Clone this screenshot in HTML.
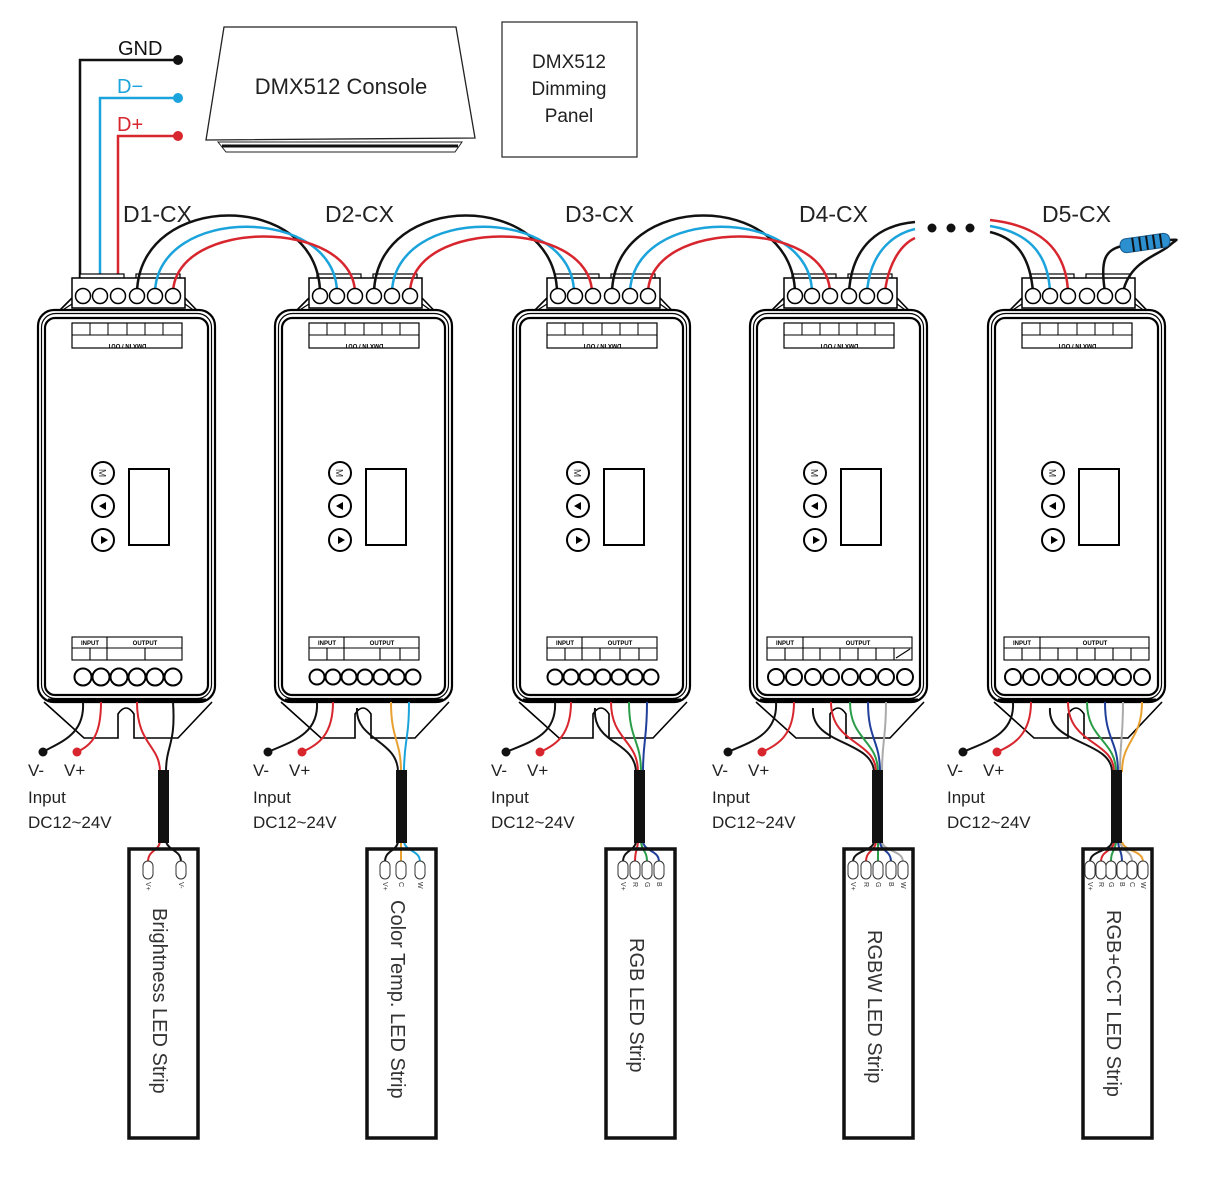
<!DOCTYPE html>
<html><head><meta charset="utf-8"><style>
html,body{margin:0;padding:0;background:#fff;}
svg{display:block;font-family:"Liberation Sans",sans-serif;}
</style></head><body>
<svg width="1218" height="1188" viewBox="0 0 1218 1188" xmlns="http://www.w3.org/2000/svg">
<defs>
<g id="body" fill="none" stroke="#000">
  <path d="M40,330 L72,298 M185,298 L214,328" stroke-width="1.6"/>
  <path d="M44,322 L72,304 M185,304 L210,322" stroke-width="1.2"/>
  <rect x="38" y="310" width="177" height="392" rx="16" stroke-width="2.2" fill="#fff"/>
  <rect x="41.5" y="313.5" width="170" height="385" rx="14" stroke-width="1.2"/>
  <rect x="45" y="318" width="163" height="377" rx="10" stroke-width="2.2"/>
  <rect x="80" y="274" width="44" height="5" stroke-width="1.2" fill="#fff"/>
  <rect x="136" y="274" width="44" height="5" stroke-width="1.2" fill="#fff"/>
  <rect x="72" y="278" width="113" height="30" stroke-width="1.5" fill="#fff"/>
  <rect x="72" y="323" width="110" height="25" stroke-width="1.2"/>
  <path d="M72,335 H182 M90,323 V335 M108,323 V335 M127,323 V335 M145,323 V335 M163,323 V335" stroke-width="1"/>
  <circle cx="103" cy="473" r="11" stroke-width="2"/>
  <circle cx="103" cy="506" r="11" stroke-width="2"/>
  <circle cx="103" cy="540" r="11" stroke-width="2"/>
  <path d="M99,506 L106,502 L106,510 Z M101,536 L108,540 L101,544 Z" fill="#000" stroke="none"/>
  <rect x="129" y="469" width="40" height="76" stroke-width="2"/>
  <path d="M44,702 L84,738 L118,738 L118,714 Q126,702 134,714 L134,738 L178,738 L212,702" stroke-width="1.6"/>
  <line x1="48" y1="700" x2="206" y2="700" stroke-width="3"/>
</g>
<g id="topterm" fill="#fff" stroke="#000" stroke-width="1.5">
  <circle cx="83" cy="296" r="7.5"/><circle cx="100" cy="296" r="7.5"/><circle cx="118" cy="296" r="7.5"/>
  <circle cx="137" cy="296" r="7.5"/><circle cx="155" cy="296" r="7.5"/><circle cx="173" cy="296" r="7.5"/>
</g>
</defs>

<polygon points="224,27 456,27 475,138 206,140" fill="#fff" stroke="#222" stroke-width="1.3"/>
<polygon points="218,142 462,142 455,152 226,152" fill="#fff" stroke="#222" stroke-width="1"/>
<line x1="222" y1="146" x2="458" y2="146" stroke="#111" stroke-width="3"/>
<text x="341" y="94" font-size="22" text-anchor="middle" fill="#222">DMX512 Console</text>
<rect x="502" y="22" width="135" height="135" fill="none" stroke="#333" stroke-width="1.3"/>
<text x="569" y="68" font-size="19" text-anchor="middle" fill="#222">DMX512</text>
<text x="569" y="95" font-size="19" text-anchor="middle" fill="#222">Dimming</text>
<text x="569" y="122" font-size="19" text-anchor="middle" fill="#222">Panel</text>

<text x="118" y="55" font-size="20" fill="#111">GND</text>
<path d="M80,290 V60 H178" fill="none" stroke="#111" stroke-width="2.5"/>
<circle cx="178" cy="60" r="5" fill="#111"/>
<text x="117" y="93" font-size="20" fill="#1ba3db">D−</text>
<path d="M100,290 V98 H178" fill="none" stroke="#1ba3db" stroke-width="2.5"/>
<circle cx="178" cy="98" r="5" fill="#1ba3db"/>
<text x="117" y="131" font-size="20" fill="#d7262e">D+</text>
<path d="M118,290 V136 H178" fill="none" stroke="#d7262e" stroke-width="2.5"/>
<circle cx="178" cy="136" r="5" fill="#d7262e"/>

<g font-size="23" fill="#222">
<text x="123" y="222">D1-CX</text><text x="325" y="222">D2-CX</text><text x="565" y="222">D3-CX</text><text x="799" y="222">D4-CX</text><text x="1042" y="222">D5-CX</text>
</g>

<use href="#body"/><use href="#body" x="237"/><use href="#body" x="475"/><use href="#body" x="712"/><use href="#body" x="950"/>
<g font-size="10" fill="#333" text-anchor="middle">
<text transform="translate(99,473) rotate(90)">M</text>
<text transform="translate(336,473) rotate(90)">M</text>
<text transform="translate(574,473) rotate(90)">M</text>
<text transform="translate(811,473) rotate(90)">M</text>
<text transform="translate(1049,473) rotate(90)">M</text>
</g>

<g fill="none" stroke-width="2.5">
<path d="M137,292 C140,190 318,190 320,292" stroke="#111"/>
<path d="M155,292 C158,205 335,205 337,292" stroke="#1ba3db"/>
<path d="M173,292 C176,218 352,218 355,292" stroke="#d7262e"/>
<path d="M374,292 C377,190 555,190 557,292" stroke="#111"/>
<path d="M392,292 C395,205 572,205 574,292" stroke="#1ba3db"/>
<path d="M410,292 C413,218 589,218 592,292" stroke="#d7262e"/>
<path d="M612,292 C615,190 792,190 795,292" stroke="#111"/>
<path d="M630,292 C633,205 810,205 812,292" stroke="#1ba3db"/>
<path d="M648,292 C651,218 827,218 830,292" stroke="#d7262e"/>
<path d="M849,292 C852,245 880,225 915,222" stroke="#111"/>
<path d="M867,292 C870,255 890,235 915,229" stroke="#1ba3db"/>
<path d="M885,292 C888,265 900,245 915,238" stroke="#d7262e"/>
<path d="M1033,292 C1030,255 1015,238 990,232" stroke="#111"/>
<path d="M1050,292 C1048,250 1025,232 990,226" stroke="#1ba3db"/>
<path d="M1068,292 C1066,245 1035,225 990,220" stroke="#d7262e"/>
<path d="M1105,292 C1100,260 1105,250 1122,246" stroke="#111"/>
<path d="M1123,292 C1130,260 1160,255 1170,245 C1178,238 1180,240 1168,240" stroke="#111"/>
</g>
<circle cx="932" cy="228" r="4.5" fill="#111"/><circle cx="951" cy="228" r="4.5" fill="#111"/><circle cx="970" cy="228" r="4.5" fill="#111"/>
<g transform="rotate(-8 1145 243)">
<rect x="1120" y="236" width="50" height="14" rx="6" fill="#2b8fd0" stroke="#1a5d90"/>
<path d="M1133,236 V250 M1140,236 V250 M1147,236 V250 M1154,236 V250 M1161,236 V250" stroke="#111" stroke-width="2"/>
</g>

<use href="#topterm"/><use href="#topterm" x="237"/><use href="#topterm" x="475"/><use href="#topterm" x="712"/><use href="#topterm" x="950"/>

<g font-size="6" fill="#000" text-anchor="middle" font-weight="bold">
<text transform="translate(127,344) rotate(180)">DMX IN / OUT</text>
<text transform="translate(364,344) rotate(180)">DMX IN / OUT</text>
<text transform="translate(602,344) rotate(180)">DMX IN / OUT</text>
<text transform="translate(839,344) rotate(180)">DMX IN / OUT</text>
<text transform="translate(1077,344) rotate(180)">DMX IN / OUT</text>
</g>

<g fill="none" stroke="#000" stroke-width="1.1">
<rect x="72" y="637" width="110" height="23"/><path d="M72,648 H182 M107,637 V660 M90,648 V660 M145,648 V660"/>
<rect x="309" y="637" width="110" height="23"/><path d="M309,648 H419 M344,637 V660 M327,648 V660 M380,648 V660 M400,648 V660"/>
<rect x="547" y="637" width="110" height="23"/><path d="M547,648 H657 M582,637 V660 M565,648 V660 M600,648 V660 M620,648 V660 M639,648 V660"/>
<rect x="767" y="637" width="145" height="23"/><path d="M767,648 H912 M803,637 V660 M785,648 V660 M820,648 V660 M840,648 V660 M858,648 V660 M876,648 V660 M894,648 V660 M896,658 L910,649"/>
<rect x="1004" y="637" width="145" height="23"/><path d="M1004,648 H1149 M1040,637 V660 M1022,648 V660 M1058,648 V660 M1077,648 V660 M1095,648 V660 M1113,648 V660 M1131,648 V660"/>
</g>
<g font-size="6" font-weight="bold" text-anchor="middle">
<text x="90" y="645">INPUT</text><text x="145" y="645">OUTPUT</text>
<text x="327" y="645">INPUT</text><text x="382" y="645">OUTPUT</text>
<text x="565" y="645">INPUT</text><text x="620" y="645">OUTPUT</text>
<text x="785" y="645">INPUT</text><text x="858" y="645">OUTPUT</text>
<text x="1022" y="645">INPUT</text><text x="1095" y="645">OUTPUT</text>
</g>
<g fill="#fff" stroke="#000" stroke-width="2">
<circle cx="83" cy="677" r="8.5"/><circle cx="101" cy="677" r="8.5"/><circle cx="119" cy="677" r="8.5"/><circle cx="137" cy="677" r="8.5"/><circle cx="155" cy="677" r="8.5"/><circle cx="173" cy="677" r="8.5"/>
<circle cx="317" cy="677" r="7.5"/><circle cx="333" cy="677" r="7.5"/><circle cx="349" cy="677" r="7.5"/><circle cx="365" cy="677" r="7.5"/><circle cx="381" cy="677" r="7.5"/><circle cx="397" cy="677" r="7.5"/><circle cx="413" cy="677" r="7.5"/>
<circle cx="555" cy="677" r="7.5"/><circle cx="571" cy="677" r="7.5"/><circle cx="587" cy="677" r="7.5"/><circle cx="603" cy="677" r="7.5"/><circle cx="619" cy="677" r="7.5"/><circle cx="635" cy="677" r="7.5"/><circle cx="651" cy="677" r="7.5"/>
<circle cx="776" cy="677" r="8"/><circle cx="794" cy="677" r="8"/><circle cx="813" cy="677" r="8"/><circle cx="831" cy="677" r="8"/><circle cx="850" cy="677" r="8"/><circle cx="868" cy="677" r="8"/><circle cx="886" cy="677" r="8"/><circle cx="905" cy="677" r="8"/>
<circle cx="1013" cy="677" r="8"/><circle cx="1031" cy="677" r="8"/><circle cx="1050" cy="677" r="8"/><circle cx="1068" cy="677" r="8"/><circle cx="1087" cy="677" r="8"/><circle cx="1105" cy="677" r="8"/><circle cx="1123" cy="677" r="8"/><circle cx="1142" cy="677" r="8"/>
</g>

<g fill="none" stroke-width="2">
<path d="M83,702 C85,735 60,742 43,752" stroke="#111"/><path d="M101,702 C101,735 92,745 77,752" stroke="#d7262e"/>
<path d="M317,702 C319,735 290,742 268,752" stroke="#111"/><path d="M333,702 C333,735 318,745 302,752" stroke="#d7262e"/>
<path d="M555,702 C557,735 530,742 506,752" stroke="#111"/><path d="M571,702 C571,735 556,745 540,752" stroke="#d7262e"/>
<path d="M776,702 C778,735 750,742 728,752" stroke="#111"/><path d="M794,702 C794,735 778,745 762,752" stroke="#d7262e"/>
<path d="M1013,702 C1015,735 985,742 963,752" stroke="#111"/><path d="M1031,702 C1031,735 1013,745 997,752" stroke="#d7262e"/>
</g>
<g fill="#111"><circle cx="43" cy="752" r="4.5"/><circle cx="268" cy="752" r="4.5"/><circle cx="506" cy="752" r="4.5"/><circle cx="728" cy="752" r="4.5"/><circle cx="963" cy="752" r="4.5"/></g>
<g fill="#d7262e"><circle cx="77" cy="752" r="4.5"/><circle cx="302" cy="752" r="4.5"/><circle cx="540" cy="752" r="4.5"/><circle cx="762" cy="752" r="4.5"/><circle cx="997" cy="752" r="4.5"/></g>
<g font-size="17" fill="#222">
<text x="28" y="776">V-</text><text x="64" y="776">V+</text><text x="28" y="803">Input</text><text x="28" y="828">DC12~24V</text>
<text x="253" y="776">V-</text><text x="289" y="776">V+</text><text x="253" y="803">Input</text><text x="253" y="828">DC12~24V</text>
<text x="491" y="776">V-</text><text x="527" y="776">V+</text><text x="491" y="803">Input</text><text x="491" y="828">DC12~24V</text>
<text x="712" y="776">V-</text><text x="748" y="776">V+</text><text x="712" y="803">Input</text><text x="712" y="828">DC12~24V</text>
<text x="947" y="776">V-</text><text x="983" y="776">V+</text><text x="947" y="803">Input</text><text x="947" y="828">DC12~24V</text>
</g>

<g fill="none" stroke-width="2">
<path d="M137,702 C137,745 160,745 160,772" stroke="#d7262e"/>
<path d="M173,702 C176,745 166,745 166,772" stroke="#111"/>
<path d="M160,842 C158,852 148,850 148,862" stroke="#d7262e"/>
<path d="M166,842 C170,852 181,850 181,862" stroke="#111"/>
<path d="M357,708 C355,740 398,740 398,772" stroke="#111"/>
<path d="M391,702 C391,740 401,740 401,772" stroke="#e8a030"/>
<path d="M409,702 C409,740 404,740 404,772" stroke="#1ba3db"/>
<path d="M398,842 C396,852 385,850 385,862" stroke="#111"/>
<path d="M401,842 V862" stroke="#e8a030"/>
<path d="M404,842 C406,852 420,850 420,862" stroke="#1ba3db"/>
<path d="M595,708 C592,745 635,740 636,772" stroke="#111"/>
<path d="M611,702 C611,740 638,740 638,772" stroke="#d7262e"/>
<path d="M629,702 C629,740 641,740 641,772" stroke="#2a9d48"/>
<path d="M647,702 C647,740 643,740 643,772" stroke="#1f3f9a"/>
<path d="M636,842 C634,852 623,850 623,862" stroke="#111"/>
<path d="M638,842 C637,852 635,850 635,862" stroke="#d7262e"/>
<path d="M641,842 C642,852 647,850 647,862" stroke="#2a9d48"/>
<path d="M643,842 C645,852 659,850 659,862" stroke="#1f3f9a"/>
<path d="M813,708 C810,745 873,740 874,772" stroke="#111"/>
<path d="M831,702 C831,745 876,740 876,772" stroke="#d7262e"/>
<path d="M850,702 C850,740 878,740 878,772" stroke="#2a9d48"/>
<path d="M868,702 C868,740 880,740 880,772" stroke="#1f3f9a"/>
<path d="M886,702 C886,740 882,740 882,772" stroke="#aaa"/>
<path d="M874,842 C872,852 853,850 853,862" stroke="#111"/>
<path d="M876,842 C875,852 866,850 866,862" stroke="#d7262e"/>
<path d="M878,842 V862" stroke="#2a9d48"/>
<path d="M880,842 C881,852 891,850 891,862" stroke="#1f3f9a"/>
<path d="M882,842 C884,852 903,850 903,862" stroke="#aaa"/>
<path d="M1050,708 C1047,745 1112,740 1112,772" stroke="#111"/>
<path d="M1068,702 C1068,745 1114,740 1114,772" stroke="#d7262e"/>
<path d="M1087,702 C1087,740 1116,740 1116,772" stroke="#2a9d48"/>
<path d="M1105,702 C1105,740 1118,740 1118,772" stroke="#1f3f9a"/>
<path d="M1123,702 C1123,740 1120,740 1120,772" stroke="#aaa"/>
<path d="M1142,702 C1142,740 1122,740 1122,772" stroke="#e8a030"/>
<path d="M1112,842 C1110,852 1090,850 1090,862" stroke="#111"/>
<path d="M1114,842 C1113,852 1101,850 1101,862" stroke="#d7262e"/>
<path d="M1116,842 C1115,852 1111,850 1111,862" stroke="#2a9d48"/>
<path d="M1118,842 C1119,852 1122,850 1122,862" stroke="#1f3f9a"/>
<path d="M1120,842 C1122,852 1132,850 1132,862" stroke="#aaa"/>
<path d="M1122,842 C1125,852 1143,850 1143,862" stroke="#e8a030"/>
</g>
<g fill="#111">
<rect x="158" y="770" width="11" height="73"/><rect x="396" y="770" width="11" height="73"/><rect x="634" y="770" width="11" height="73"/><rect x="872" y="770" width="11" height="73"/><rect x="1111" y="770" width="11" height="73"/>
</g>

<g fill="none" stroke="#111" stroke-width="3.5">
<rect x="129" y="849" width="69" height="289"/><rect x="367" y="849" width="69" height="289"/><rect x="606" y="849" width="69" height="289"/><rect x="844" y="849" width="69" height="289"/><rect x="1083" y="849" width="69" height="289"/>
</g>
<g fill="#fff" stroke="#333" stroke-width="1">
<rect x="143" y="861" width="10" height="18" rx="5"/><rect x="176" y="861" width="10" height="18" rx="5"/>
<rect x="380" y="861" width="10" height="18" rx="5"/><rect x="396" y="861" width="10" height="18" rx="5"/><rect x="415" y="861" width="10" height="18" rx="5"/>
<rect x="618" y="861" width="10" height="18" rx="5"/><rect x="630" y="861" width="10" height="18" rx="5"/><rect x="642" y="861" width="10" height="18" rx="5"/><rect x="654" y="861" width="10" height="18" rx="5"/>
<rect x="848" y="861" width="10" height="18" rx="5"/><rect x="861" y="861" width="10" height="18" rx="5"/><rect x="873" y="861" width="10" height="18" rx="5"/><rect x="886" y="861" width="10" height="18" rx="5"/><rect x="898" y="861" width="10" height="18" rx="5"/>
<rect x="1085" y="861" width="10" height="18" rx="5"/><rect x="1096" y="861" width="10" height="18" rx="5"/><rect x="1106" y="861" width="10" height="18" rx="5"/><rect x="1117" y="861" width="10" height="18" rx="5"/><rect x="1127" y="861" width="10" height="18" rx="5"/><rect x="1138" y="861" width="10" height="18" rx="5"/>
</g>
<g font-size="7" fill="#333">
<text transform="translate(146,882) rotate(90)">V+</text><text transform="translate(179,882) rotate(90)">V-</text>
<text transform="translate(383,882) rotate(90)">V+</text><text transform="translate(399,882) rotate(90)">C</text><text transform="translate(418,882) rotate(90)">W</text>
<text transform="translate(621,882) rotate(90)">V+</text><text transform="translate(633,882) rotate(90)">R</text><text transform="translate(645,882) rotate(90)">G</text><text transform="translate(657,882) rotate(90)">B</text>
<text transform="translate(851,882) rotate(90)">V+</text><text transform="translate(864,882) rotate(90)">R</text><text transform="translate(876,882) rotate(90)">G</text><text transform="translate(889,882) rotate(90)">B</text><text transform="translate(901,882) rotate(90)">W</text>
<text transform="translate(1088,882) rotate(90)">V+</text><text transform="translate(1099,882) rotate(90)">R</text><text transform="translate(1109,882) rotate(90)">G</text><text transform="translate(1120,882) rotate(90)">B</text><text transform="translate(1130,882) rotate(90)">C</text><text transform="translate(1141,882) rotate(90)">W</text>
</g>
<g font-size="20" fill="#333">
<text transform="translate(153,908) rotate(90)">Brightness LED Strip</text>
<text transform="translate(391,900) rotate(90)">Color Temp. LED Strip</text>
<text transform="translate(630,938) rotate(90)">RGB LED Strip</text>
<text transform="translate(868,930) rotate(90)">RGBW LED Strip</text>
<text transform="translate(1107,910) rotate(90)">RGB+CCT LED Strip</text>
</g>
</svg>
</body></html>
